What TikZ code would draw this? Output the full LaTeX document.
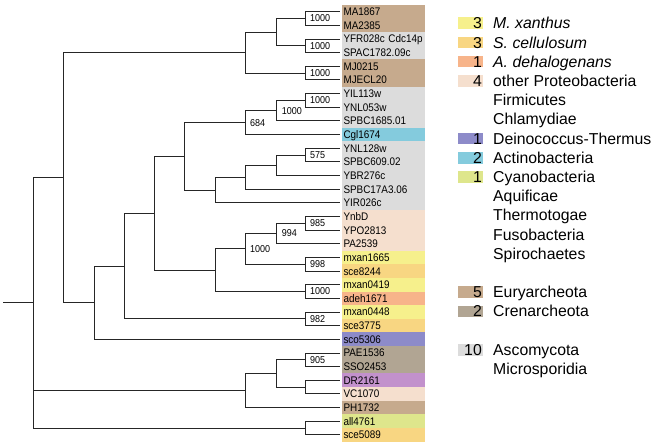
\documentclass[tikz,border=0pt]{standalone}
\usepackage{fontspec}
\setmainfont{Liberation Sans}
\newfontfamily\leaffont[FakeStretch=0.9]{Liberation Sans}
\usetikzlibrary{positioning}
\definecolor{euryarch}{HTML}{C6AA8D}
\definecolor{crenarch}{HTML}{B1A593}
\definecolor{ascomy}{HTML}{DCDCDC}
\definecolor{actino}{HTML}{84CBDD}
\definecolor{deino}{HTML}{8D8BC9}
\definecolor{cyano}{HTML}{DEE68C}
\definecolor{mxan}{HTML}{F6F08C}
\definecolor{scell}{HTML}{F8D682}
\definecolor{adeh}{HTML}{F7B48A}
\definecolor{proteo}{HTML}{F5DFCE}
\definecolor{drpurple}{HTML}{C291CC}
\newcommand\legfont{\fontsize{15.8}{18}\selectfont}

\begin{document}
\begin{tikzpicture}[
  x=1pt, y=-13.65pt,
  every node/.style={inner sep=0pt},
  leaf/.style={anchor=west, minimum width=83pt, minimum height=13.65pt, text width=79pt, align=left,
    inner xsep=2pt, outer xsep=2pt, font=\leaffont\fontsize{11}{12}\selectfont, text height=7.9pt, text depth=0pt},
  branch/.style={draw=black!85, line width=0.9pt},
  boot/.style={anchor=west, xshift=5pt, font=\leaffont\fontsize{10}{11}\selectfont},
  legbox/.style={anchor=east, minimum width=25pt, minimum height=11.6pt, text width=23pt, align=right,
    inner xsep=1pt, font=\legfont, text height=11.3pt, text depth=0pt},
  legtext/.style={anchor=west, font=\legfont, text height=11.3pt, text depth=0pt}
]
\useasboundingbox (0,-0.857) rectangle (655,31.597);

% leaves, one row each
\foreach \txt/\col [count=\i from 0] in {
  MA1867/euryarch, MA2385/euryarch, \mbox{YFR028c Cdc14p}/ascomy, SPAC1782.09c/ascomy,
  MJ0215/euryarch, MJECL20/euryarch, YIL113w/ascomy, YNL053w/ascomy, SPBC1685.01/ascomy,
  Cgl1674/actino, YNL128w/ascomy, SPBC609.02/ascomy, YBR276c/ascomy, SPBC17A3.06/ascomy,
  YIR026c/ascomy, YnbD/proteo, YPO2813/proteo, PA2539/proteo, mxan1665/mxan, sce8244/scell,
  mxan0419/mxan, adeh1671/adeh, mxan0448/mxan, sce3775/scell, sco5306/deino,
  PAE1536/crenarch, SSO2453/crenarch, DR2161/drpurple, VC1070/proteo, PH1732/euryarch,
  all4761/cyano, sce5089/scell}
  \node[leaf, fill=\col] (l\i) at (339.5,\i) {\txt};

% inner nodes of the tree
\coordinate (a1) at (305,0.5);
\coordinate (a2) at (305,2.5);
\coordinate (a3) at (276.7,1.5);
\coordinate (a4) at (305,4.5);
\coordinate (a5) at (245,3);
\coordinate (b1) at (305,6.5);
\coordinate (b2) at (276.7,7.25);
\coordinate (b3) at (245,8.125);
\coordinate (b4) at (305,10.5);
\coordinate (b5) at (276.7,11.25);
\coordinate (b6) at (245,12.125);
\coordinate (b7) at (215.7,13.06);
\coordinate (b8) at (184.3,10.59);
\coordinate (c1) at (305,15.5);
\coordinate (c2) at (276.7,16.25);
\coordinate (c3) at (305,18.5);
\coordinate (c4) at (245,17.375);
\coordinate (c5) at (305,20.5);
\coordinate (c6) at (215.7,18.94);
\coordinate (d1) at (154.3,14.77);
\coordinate (d2) at (305,22.5);
\coordinate (d3) at (124,18.63);
\coordinate (d4) at (94.3,21.32);
\coordinate (d5) at (63.3,12.16);
\coordinate (e1) at (305,25.5);
\coordinate (e2) at (305,27.5);
\coordinate (e3) at (276.7,26.5);
\coordinate (e4) at (245,27.75);
\coordinate (f1) at (305,30.5);
\coordinate (root) at (33.3,21.33);
\coordinate (stub) at (3.3,21.33);

% branches
\draw[branch] (a1) |- (l0.west) (a1) |- (l1.west);
\draw[branch] (a2) |- (l2.west) (a2) |- (l3.west);
\draw[branch] (a3) |- (a1) (a3) |- (a2);
\draw[branch] (a4) |- (l4.west) (a4) |- (l5.west);
\draw[branch] (a5) |- (a3) (a5) |- (a4);
\draw[branch] (b1) |- (l6.west) (b1) |- (l7.west);
\draw[branch] (b2) |- (b1) (b2) |- (l8.west);
\draw[branch] (b3) |- (b2) (b3) |- (l9.west);
\draw[branch] (b4) |- (l10.west) (b4) |- (l11.west);
\draw[branch] (b5) |- (b4) (b5) |- (l12.west);
\draw[branch] (b6) |- (b5) (b6) |- (l13.west);
\draw[branch] (b7) |- (b6) (b7) |- (l14.west);
\draw[branch] (b8) |- (b3) (b8) |- (b7);
\draw[branch] (c1) |- (l15.west) (c1) |- (l16.west);
\draw[branch] (c2) |- (c1) (c2) |- (l17.west);
\draw[branch] (c3) |- (l18.west) (c3) |- (l19.west);
\draw[branch] (c4) |- (c2) (c4) |- (c3);
\draw[branch] (c5) |- (l20.west) (c5) |- (l21.west);
\draw[branch] (c6) |- (c4) (c6) |- (c5);
\draw[branch] (d1) |- (b8) (d1) |- (c6);
\draw[branch] (d2) |- (l22.west) (d2) |- (l23.west);
\draw[branch] (d3) |- (d1) (d3) |- (d2);
\draw[branch] (d4) |- (d3) (d4) |- (l24.west);
\draw[branch] (d5) |- (a5) (d5) |- (d4);
\draw[branch] (e1) |- (l25.west) (e1) |- (l26.west);
\draw[branch] (e2) |- (l27.west) (e2) |- (l28.west);
\draw[branch] (e3) |- (e1) (e3) |- (e2);
\draw[branch] (e4) |- (e3) (e4) |- (l29.west);
\draw[branch] (f1) |- (l30.west) (f1) |- (l31.west);
\draw[branch] (root) |- (d5) (root) |- (e4) (root) |- (f1);
\draw[branch] (stub) -- (root);

% bootstrap values
\node[boot] (bs-a1) at (a1) {1000};
\node[boot] (bs-a2) at (a2) {1000};
\node[boot] (bs-a4) at (a4) {1000};
\node[boot] (bs-b1) at (b1) {1000};
\node[boot] (bs-b2) at (b2) {1000};
\node[boot] (bs-b3) at (b3) {684};
\node[boot] (bs-b4) at (b4) {575};
\node[boot] (bs-c1) at (c1) {985};
\node[boot] (bs-c2) at (c2) {994};
\node[boot] (bs-c3) at (c3) {998};
\node[boot] (bs-c4) at (c4) {1000};
\node[boot] (bs-c5) at (c5) {1000};
\node[boot] (bs-d2) at (d2) {982};
\node[boot] (bs-e1) at (e1) {905};

% legend
\foreach \k/\col/\num in {0/mxan/3, 1/scell/3, 2/adeh/1, 3/proteo/4, 6/deino/1, 7/actino/2,
  8/cyano/1, 14/euryarch/5, 15/crenarch/2, 17/ascomy/10}
  \node[legbox, fill=\col] (lb\k) at (483,{0.85+1.4066*\k}) {\num};
\foreach \k/\txt in {0/\textit{M. xanthus}, 1/\textit{S. cellulosum}, 2/\textit{A. dehalogenans},
  3/other Proteobacteria, 4/Firmicutes, 5/Chlamydiae, 6/Deinococcus-Thermus, 7/Actinobacteria,
  8/Cyanobacteria, 9/Aquificae, 10/Thermotogae, 11/Fusobacteria, 12/Spirochaetes,
  14/Euryarcheota, 15/Crenarcheota, 17/Ascomycota, 18/Microsporidia}
  \node[legtext] (lt\k) at (493,{0.85+1.4066*\k}) {\txt};
\end{tikzpicture}
\end{document}
